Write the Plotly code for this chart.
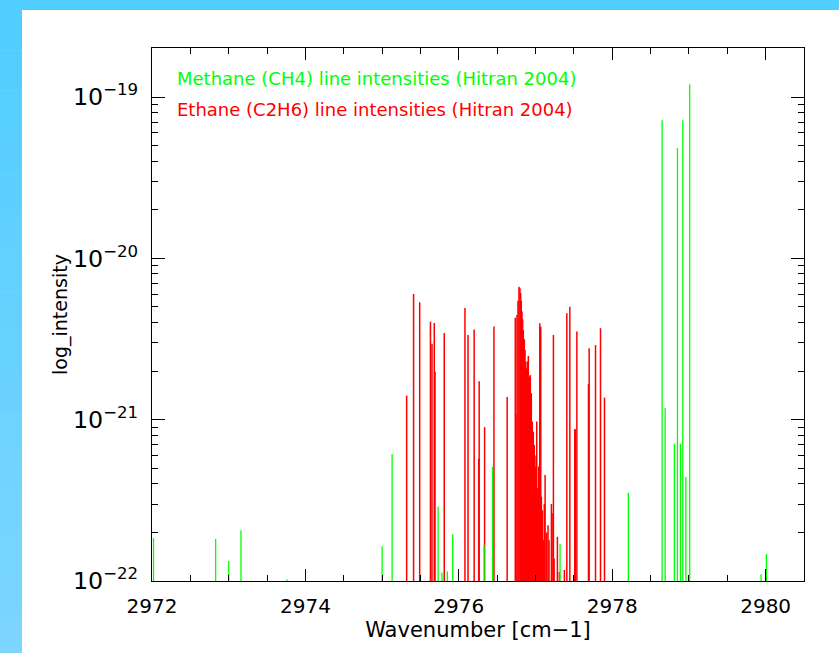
import plotly.graph_objects as go

# ---------------- data ----------------
ch4_wavenumber = [2972.02, 2972.83, 2973.00, 2973.16, 2973.76, 2975.00, 2975.13,
                  2975.73, 2975.78, 2975.85, 2975.92, 2976.33, 2976.44, 2977.32,
                  2978.21, 2978.65, 2978.69, 2978.81, 2978.85, 2978.89, 2978.92,
                  2978.96, 2979.01, 2979.94, 2980.01]
ch4_intensity = [1.85e-22, 1.82e-22, 1.33e-22, 2.06e-22, 1.02e-22, 1.64e-22, 6.12e-22,
                 2.90e-22, 1.13e-22, 1.15e-22, 1.95e-22, 1.67e-22, 5.09e-22, 1.69e-22,
                 3.53e-22, 7.19e-20, 1.18e-21, 7.10e-22, 4.84e-20, 7.10e-22, 7.19e-20,
                 4.42e-22, 1.20e-19, 1.10e-22, 1.47e-22]

c2h6_wavenumber = [2975.32, 2975.41, 2975.49, 2975.63, 2975.65, 2975.68, 2975.69,
                   2975.81, 2976.08, 2976.12, 2976.20, 2976.265, 2976.259, 2976.336,
                   2976.458, 2976.630,
                   2976.736, 2976.745, 2976.758, 2976.771, 2976.784, 2976.797, 2976.806,
                   2976.814, 2976.824, 2976.832, 2976.841, 2976.854, 2976.863, 2976.872,
                   2976.885, 2976.895, 2976.906, 2976.919, 2976.932, 2976.945, 2976.958,
                   2976.971, 2976.984, 2976.997, 2977.007, 2977.016, 2977.029, 2977.042,
                   2977.055, 2977.068, 2977.076, 2977.089, 2977.102, 2977.114, 2977.125,
                   2977.145, 2977.163, 2977.176, 2977.207, 2977.216, 2977.233, 2977.242,
                   2977.285, 2977.311,
                   2977.376, 2977.408, 2977.447, 2977.512, 2977.518, 2977.539, 2977.690,
                   2977.699, 2977.782, 2977.847, 2977.899]
c2h6_intensity = [1.41e-21, 6.01e-21, 5.35e-21, 4.04e-21, 2.96e-21, 3.98e-21, 1.98e-21,
                  3.45e-21, 4.93e-21, 3.35e-21, 3.62e-21, 1.73e-21, 5.73e-22, 8.99e-22,
                  3.78e-21, 1.38e-21,
                  4.29e-21, 1.08e-21, 4.46e-21, 5.47e-21, 6.68e-21, 6.53e-21, 6.08e-21,
                  5.47e-21, 4.68e-21, 4.19e-21, 3.60e-21, 3.15e-21, 2.70e-21, 2.29e-21,
                  2.08e-21, 2.30e-21, 2.48e-21, 1.85e-21, 1.89e-21, 1.46e-21, 9.73e-22,
                  8.43e-22, 6.97e-22, 5.12e-22, 6.00e-22, 9.73e-22, 3.76e-22, 5.12e-22,
                  3.96e-21, 3.77e-21, 3.33e-22, 2.75e-22, 1.79e-22, 3.00e-22, 4.54e-22,
                  2.00e-22, 2.22e-22, 1.79e-22, 3.00e-22, 2.63e-22, 3.35e-21, 1.38e-22,
                  1.88e-22, 1.14e-22,
                  1.17e-22, 4.57e-21, 5.02e-21, 8.73e-22, 8.73e-22, 3.52e-21, 1.66e-21,
                  2.77e-21, 2.90e-21, 3.69e-21, 1.37e-21]

x_range = [2972, 2980.5]
y_log_range = [-22, -18.696]
baseline = 1e-22

legend_texts = ["Methane (CH4) line intensities (Hitran 2004)",
                "Ethane (C2H6) line intensities (Hitran 2004)"]
x_title = "Wavenumber [cm\u22121]"
y_title = "log_intensity"

GREEN = "rgb(0,255,0)"
RED = "rgb(255,0,0)"


def stick_coords(wn, s):
    xs, ys = [], []
    for w, v in zip(wn, s):
        xs += [w, w, None]
        ys += [baseline, v, None]
    return xs, ys


fig = go.Figure()
ex, ey = stick_coords(c2h6_wavenumber, c2h6_intensity)
fig.add_trace(go.Scatter(x=ex, y=ey, mode="lines", line=dict(color=RED, width=1.5),
                         name="C2H6", showlegend=False, hoverinfo="skip"))
mx, my = stick_coords(ch4_wavenumber, ch4_intensity)
fig.add_trace(go.Scatter(x=mx, y=my, mode="lines", line=dict(color=GREEN, width=1.3),
                         name="CH4", showlegend=False, hoverinfo="skip"))

# ---------------- layout ----------------
W, H = 839, 653
L, R, T, B = 152, 35, 48, 72
pw, ph = W - L - R, H - T - B


def px2paper_x(px):
    return (px - L) / pw


def px2paper_y(py):
    return (H - B - py) / ph


FONT = "DejaVu Sans"

shapes = []
# top cyan band
shapes.append(dict(type="rect", xref="paper", yref="paper", layer="below",
                   x0=px2paper_x(0), x1=px2paper_x(W), y0=px2paper_y(10), y1=px2paper_y(0),
                   fillcolor="rgb(80,206,255)", line=dict(width=0)))
# left cyan band with light vertical gradient
n = 16
for i in range(n):
    y0p = 10 + (H - 10) * i / n
    y1p = 10 + (H - 10) * (i + 1) / n
    t = (i + 0.5) / n
    col = "rgb(%d,%d,%d)" % (80 + 46 * t, 206 + 8 * t, 255)
    shapes.append(dict(type="rect", xref="paper", yref="paper", layer="below",
                       x0=px2paper_x(0), x1=px2paper_x(22), y0=px2paper_y(y1p + 0.5), y1=px2paper_y(y0p),
                       fillcolor=col, line=dict(width=0)))

annotations = [
    dict(text=legend_texts[0], xref="paper", yref="paper", x=px2paper_x(175), y=px2paper_y(78),
         xanchor="left", yanchor="middle", showarrow=False, font=dict(color=GREEN, size=18, family=FONT)),
    dict(text=legend_texts[1], xref="paper", yref="paper", x=px2paper_x(175), y=px2paper_y(110),
         xanchor="left", yanchor="middle", showarrow=False, font=dict(color=RED, size=18, family=FONT)),
]

fig.update_layout(
    width=W, height=H,
    margin=dict(l=L, r=R, t=T, b=B, pad=0),
    paper_bgcolor="white", plot_bgcolor="white",
    font=dict(family=FONT, color="black"),
    shapes=shapes, annotations=annotations,
    showlegend=False,
)
fig.update_xaxes(
    range=x_range, showgrid=False, zeroline=False,
    showline=True, linecolor="black", linewidth=1, mirror="ticks",
    ticks="inside", ticklen=12, tickcolor="black", tickwidth=1,
    dtick=2, tick0=2972,
    minor=dict(dtick=0.5, ticks="inside", ticklen=6, tickcolor="black", showgrid=False),
    tickfont=dict(size=20, family=FONT), ticklabelstandoff=7,
    title=dict(text=x_title, font=dict(size=21, family=FONT), standoff=3),
    automargin=False,
)
fig.update_yaxes(
    type="log", range=y_log_range, showgrid=False, zeroline=False,
    showline=True, linecolor="black", linewidth=1, mirror="ticks",
    ticks="inside", ticklen=13, tickcolor="black", tickwidth=1,
    dtick=1, exponentformat="power",
    minor=dict(dtick="D1", ticks="inside", ticklen=6, tickcolor="black", showgrid=False),
    tickfont=dict(size=19, family=FONT), ticklabelstandoff=9,
    title=dict(text=y_title, font=dict(size=19, family=FONT), standoff=0),
    automargin=False,
)

fig.write_html("out.html")
